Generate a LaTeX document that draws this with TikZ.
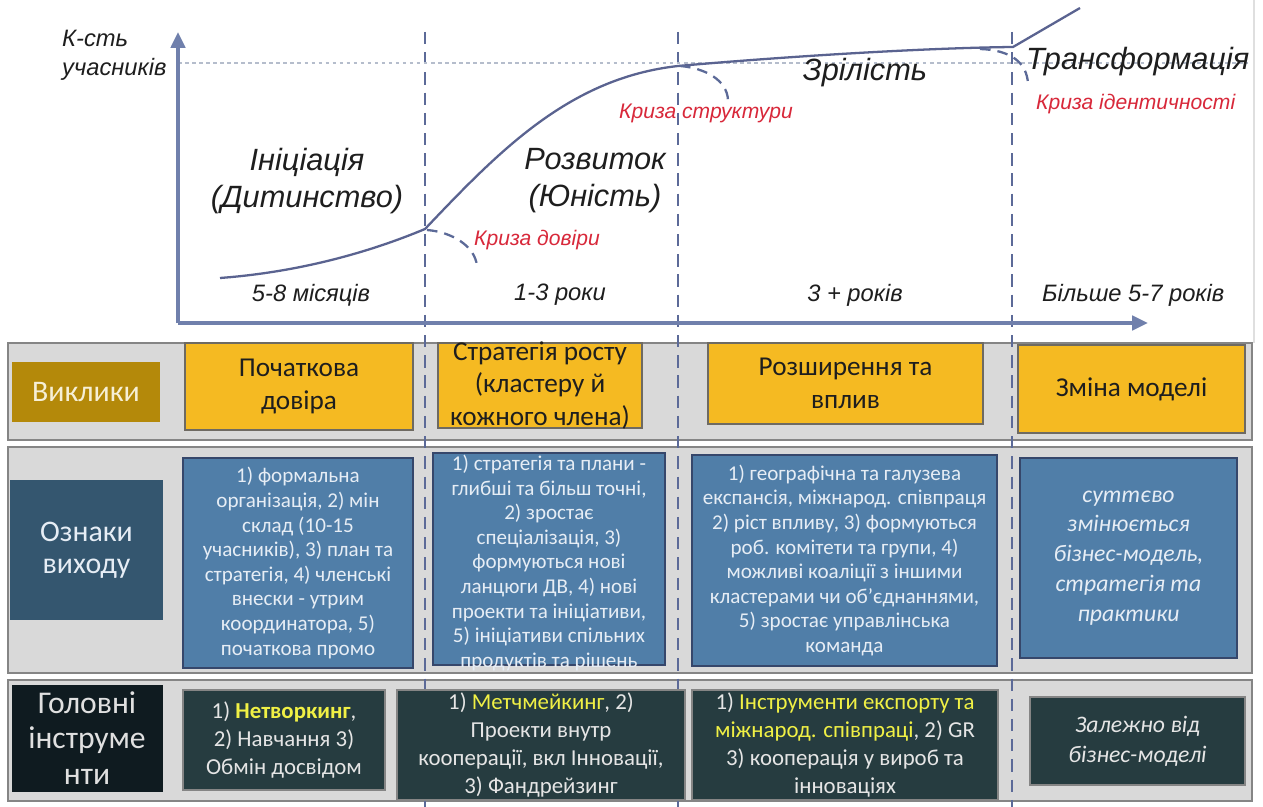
\documentclass[tikz,border=0pt]{standalone}
\usepackage{fontspec}
\setmainfont{Carlito}
\newfontfamily\chartfont{Liberation Sans}
\usetikzlibrary{arrows.meta}

\definecolor{bandgray}{HTML}{D9D9D9}
\definecolor{bandline}{HTML}{858585}
\definecolor{axisblue}{HTML}{7080AC}
\definecolor{curveblue}{HTML}{5A6390}
\definecolor{dashblue}{HTML}{5C6A98}
\definecolor{dotgray}{HTML}{B5BDCC}
\definecolor{darktext}{HTML}{1E1E1E}
\definecolor{crisisred}{HTML}{D8283A}
\definecolor{goldhead}{HTML}{B4890A}
\definecolor{goldtext}{HTML}{F6EFD6}
\definecolor{yellowbox}{HTML}{F5BA22}
\definecolor{yellowline}{HTML}{6E6A62}
\definecolor{bluehead}{HTML}{34566F}
\definecolor{bluebox}{HTML}{507EA8}
\definecolor{blueline}{HTML}{36476B}
\definecolor{bluetext}{HTML}{E6EDF5}
\definecolor{darkhead}{HTML}{0F1B20}
\definecolor{darkbox}{HTML}{263C40}
\definecolor{hl}{HTML}{F0F045}

\begin{document}
\begin{tikzpicture}[%
    x=0.02cm, y=-0.02cm,                 % one unit is one pixel of the slide
    >={Triangle[length=9pt,width=8pt]},  % arrow tips of both axes
    ]
% -------------------------------------------------
% Styles for the chart and for the three rows of boxes
\tikzset{
  wh/.style 2 args={minimum width=#1*0.02cm, minimum height=#2*0.02cm},
  band/.style={fill=bandgray, draw=bandline, line width=1.2pt},
  phase/.style={draw=dashblue, line width=1.3pt, dash pattern=on 7pt off 4.5pt},
  axis/.style={->, draw=axisblue, line width=2.2pt},
  growth/.style={draw=curveblue, line width=1.3pt},
  crisis/.style={draw=dashblue, line width=1.3pt, dash pattern=on 6pt off 4pt},
  stage/.style={font=\chartfont\itshape\fontsize{17.5}{21}\selectfont, text=darktext, align=center},
  crisisname/.style={font=\chartfont\itshape\fontsize{12}{14}\selectfont, text=crisisred},
  period/.style={font=\chartfont\itshape\fontsize{13.5}{16}\selectfont, text=darktext},
  base/.style={rectangle, align=center, inner sep=1pt, line width=1pt},
  headgold/.style={base, fill=goldhead, text=goldtext, font=\fontsize{17}{19}\selectfont},
  headblue/.style={base, fill=bluehead, text=bluetext, font=\fontsize{17}{18}\selectfont},
  headdark/.style={base, fill=darkhead, text=white!88!black, font=\fontsize{18}{20}\selectfont},
  challenge/.style={base, fill=yellowbox, draw=yellowline, text=darktext, font=\fontsize{15.5}{18.5}\selectfont},
  sign/.style={base, fill=bluebox, draw=blueline, text=bluetext, font=\fontsize{12}{14}\selectfont},
  tool/.style={base, fill=darkbox, draw=bandline, text=white!90!black, font=\fontsize{13}{16}\selectfont},
  txt/.style={align=center, inner sep=0pt},
}
% -------------------------------------------------
% Slide, the three grey bands and the phase borders
\useasboundingbox (0,0) rectangle (1263,807);
\fill[white] (0,0) rectangle (1263,807);
\draw[gray!25, line width=1pt] (1254,0) -- (1254,343);
\draw[band] (8,343) rectangle (1252,440);
\draw[band] (8,447) rectangle (1252,673);
\draw[band] (8,680) rectangle (1252,801);
\foreach \x in {425,678,1012}
  \draw[phase] (\x,32) -- (\x,807);
\draw[dotgray, line width=0.8pt, dash pattern=on 2pt off 2pt] (178,63) -- (1248,63);

% -------------------------------------------------
% Axes and the life cycle curve
\coordinate (origin) at (178,323);
\draw[axis] (origin) -- (178,32);
\draw[axis] (origin) -- (1148,323);
\draw[growth] (220,278) .. controls (300,272) and (370,252) .. (425,229)
  .. controls (500,150) and (570,78) .. (678,66)
  .. controls (780,57) and (920,48) .. (1013,47) -- (1080,8);
% crises at the phase borders
\draw[crisis] (427,230) .. controls (452,232) and (475,246) .. (477,266);
\draw[crisis] (680,66) .. controls (705,68) and (727,80) .. (728,100);
\draw[crisis] (980,49) .. controls (1010,50) and (1027,62) .. (1028,84);

\node[font=\chartfont\itshape\fontsize{13.5}{16.5}\selectfont, text=darktext, align=left,
  anchor=west] (ylabel) at (56,55) {К-сть\\учасників};
\node[stage] (infancy) at (307,181) {Ініціація\\(Дитинство)};
\node[stage] (youth) at (595,181) {Розвиток\\(Юність)};
\node[stage] (maturity) at (865,73) {Зрілість};
\node[stage, anchor=west] (transform) at (1020,62) {Трансформація};
\node[crisisname] (trust) at (537,240) {Криза довіри};
\node[crisisname] (struct) at (706,113) {Криза структури};
\node[crisisname, anchor=west] (ident) at (1030,104) {Криза ідентичності};
\node[period] (months) at (311,295) {5-8 місяців};
\node[period] (years1) at (560,295) {1-3 роки};
\node[period] (years3) at (855,295) {3 + років};
\node[period, anchor=west] (years5) at (1036,295) {Більше 5-7 років};

% -------------------------------------------------
% Row 1: challenges
\node[headgold, wh={148}{60}] (challenges) at (86,392) {Виклики};
\node[challenge, wh={228}{87}] (ch1) at (299,386.5) {Початкова\\довіра};
\node[challenge, wh={204}{85}] (ch2) at (540,385.5) {};
\node[txt, text=darktext, font=\fontsize{15.5}{18.5}\selectfont] (ch2t) at (ch2)
  {Стратегія росту\\(кластеру й\\кожного члена)};
\node[challenge, wh={275}{81}] (ch3) at (845.5,383.5) {Розширення та\\вплив};
\node[challenge, wh={227}{88}] (ch4) at (1131.5,389) {Зміна моделі};

% Row 2: exit signs
\node[headblue, wh={153}{140}] (signs) at (86.5,550) {Ознаки\\виходу};
\node[sign, wh={230}{210}] (sg1) at (298,563)
  {1) формальна\\організація, 2) мін\\склад (10-15\\учасників), 3) план та\\стратегія, 4) членські\\внески - утрим\\координатора, 5)\\початкова промо};
\node[sign, wh={232}{212}] (sg2) at (549,559) {};
\node[txt, text=bluetext, font=\fontsize{12}{14}\selectfont] (sg2t) at (549,563)
  {1) стратегія та плани -\\глибші та більш точні,\\2) зростає\\спеціалізація, 3)\\формуються нові\\ланцюги ДВ, 4) нові\\проекти та ініціативи,\\5) ініціативи спільних\\продуктів та рішень};
\node[sign, wh={305}{211}] (sg3) at (844.5,560.5)
  {1) географічна та галузева\\експансія, міжнарод. співпраця\\2) ріст впливу, 3) формуються\\роб. комітети та групи, 4)\\можливі коаліції з іншими\\кластерами чи об’єднаннями,\\5) зростає управлінська\\команда};
\node[sign, wh={217}{200}, font=\itshape\fontsize{13.5}{17}\selectfont] (sg4) at (1128.5,558)
  {суттєво\\змінюється\\бізнес-модель,\\стратегія та\\практики};

% Row 3: main tools
\node[headdark, wh={151}{107}] (tools) at (87,738) {Головні\\інструме\\нти};
\node[tool, wh={202}{100}] (tl1) at (284,740)
  {1) \textbf{\color{hl}Нетворкинг},\\2) Навчання 3)\\Обмін досвідом};
\node[tool, wh={288}{110}] (tl2) at (541,745)
  {1) {\color{hl}Метчмейкинг}, 2)\\Проекти внутр\\кооперації, вкл Інновації,\\3) Фандрейзинг};
\node[tool, wh={306}{110}] (tl3) at (845,745)
  {1) {\color{hl}Інструменти експорту та}\\{\color{hl}міжнарод. співпраці}, 2) GR\\3) кооперація у вироб та\\інноваціях};
\node[tool, wh={215}{88}, font=\itshape\fontsize{13.5}{17}\selectfont] (tl4) at (1137.5,741)
  {Залежно від\\бізнес-моделі};
% -------------------------------------------------
\end{tikzpicture}
\end{document}
